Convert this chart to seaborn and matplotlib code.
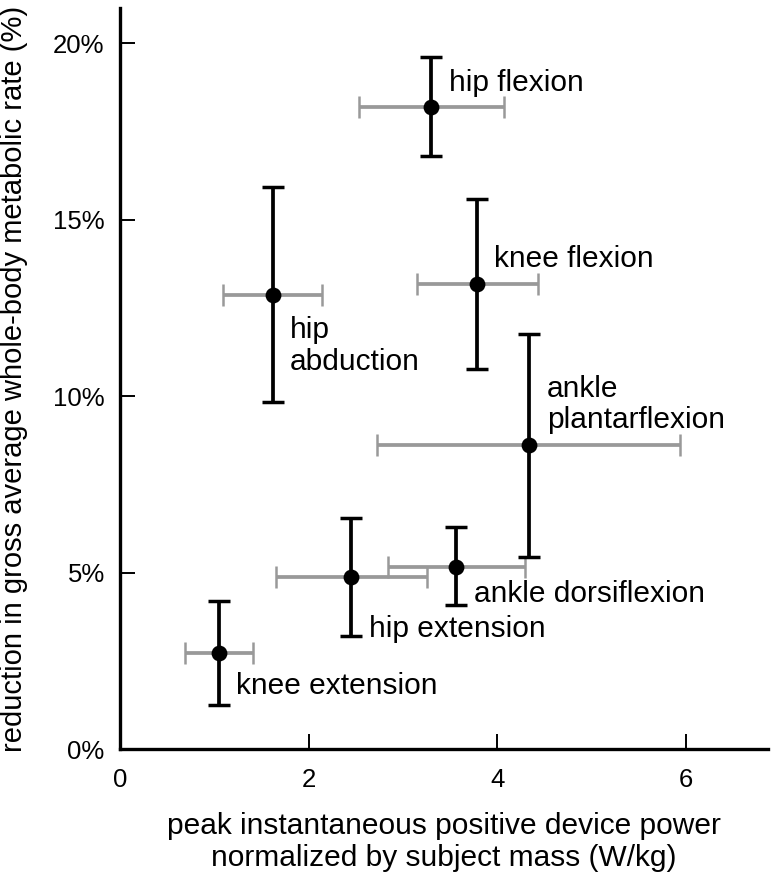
import matplotlib
matplotlib.use("Agg")
import matplotlib.pyplot as plt
from matplotlib.ticker import FuncFormatter
import pandas as pd
import seaborn as sns

joints = ["hip flexion", "knee flexion", "hip abduction", "ankle plantarflexion",
          "ankle dorsiflexion", "hip extension", "knee extension"]
power = [3.30, 3.79, 1.62, 4.34, 3.56, 2.45, 1.05]
power_lo = [2.53, 3.15, 1.09, 2.73, 2.84, 1.65, 0.69]
power_hi = [4.07, 4.43, 2.14, 5.94, 4.29, 3.26, 1.41]
reduction = [18.21, 13.19, 12.88, 8.61, 5.18, 4.88, 2.73]
reduction_lo = [16.81, 10.77, 9.85, 5.44, 4.08, 3.20, 1.27]
reduction_hi = [19.60, 15.60, 15.93, 11.77, 6.29, 6.56, 4.20]
label_text = ["hip flexion", "knee flexion", "hip\nabduction", "ankle\nplantarflexion",
              "ankle dorsiflexion", "hip extension", "knee extension"]
label_x = [3.49, 3.97, 1.80, 4.53, 3.75, 2.64, 1.23]
# baseline of the last line of each label
label_y = [18.66, 13.66, 10.75, 9.10, 4.17, 3.18, 1.56]

df = pd.DataFrame({"joint": joints, "power": power, "reduction": reduction})

sns.set_style("ticks")
plt.rcParams["font.family"] = ["Liberation Sans", "DejaVu Sans"]
plt.rcParams.update({"text.color": "black", "axes.labelcolor": "black",
                     "xtick.color": "black", "ytick.color": "black"})

fig = plt.figure(figsize=(7.71, 8.73), dpi=100)
ax = fig.add_axes([0.1556, 0.1415, 0.8404, 0.8493])

xerr = [[p - lo for p, lo in zip(power, power_lo)], [hi - p for p, hi in zip(power, power_hi)]]
yerr = [[r - lo for r, lo in zip(reduction, reduction_lo)], [hi - r for r, hi in zip(reduction, reduction_hi)]]

ax.errorbar(power, reduction, xerr=xerr, fmt="none", ecolor="#999999",
            elinewidth=2.7, capsize=7.6, capthick=1.8, zorder=2)
ax.errorbar(power, reduction, yerr=yerr, fmt="none", ecolor="black",
            elinewidth=2.7, capsize=8, capthick=2.5, zorder=3)
sns.scatterplot(data=df, x="power", y="reduction", ax=ax, color="black",
                s=130, edgecolor="black", linewidth=0, zorder=4, legend=False)

for t, x, y in zip(label_text, label_x, label_y):
    ax.text(x, y, t, fontsize=21.5, ha="left", va="baseline", linespacing=1.16, zorder=5)

ax.set_xlim(0, 6.87)
ax.set_ylim(0, 21.0)
ax.set_xticks([0, 2, 4, 6])
ax.set_yticks([0, 5, 10, 15, 20])
ax.yaxis.set_major_formatter(FuncFormatter(lambda v, pos: f"{v:.0f}%"))

ax.tick_params(direction="in", length=11, width=1.4, labelsize=18.5)
ax.tick_params(axis="x", pad=13)
ax.tick_params(axis="y", pad=11)

for side in ["top", "right"]:
    ax.spines[side].set_visible(False)
for side in ["left", "bottom"]:
    ax.spines[side].set_linewidth(2.4)
    ax.spines[side].set_color("black")

ax.set_xlabel("peak instantaneous positive device power\nnormalized by subject mass (W/kg)",
              fontsize=21.5, labelpad=15, linespacing=1.16)
ax.set_ylabel("reduction in gross average whole-body metabolic rate (%)",
              fontsize=21, labelpad=18)

fig.savefig("out.png", dpi=100)
